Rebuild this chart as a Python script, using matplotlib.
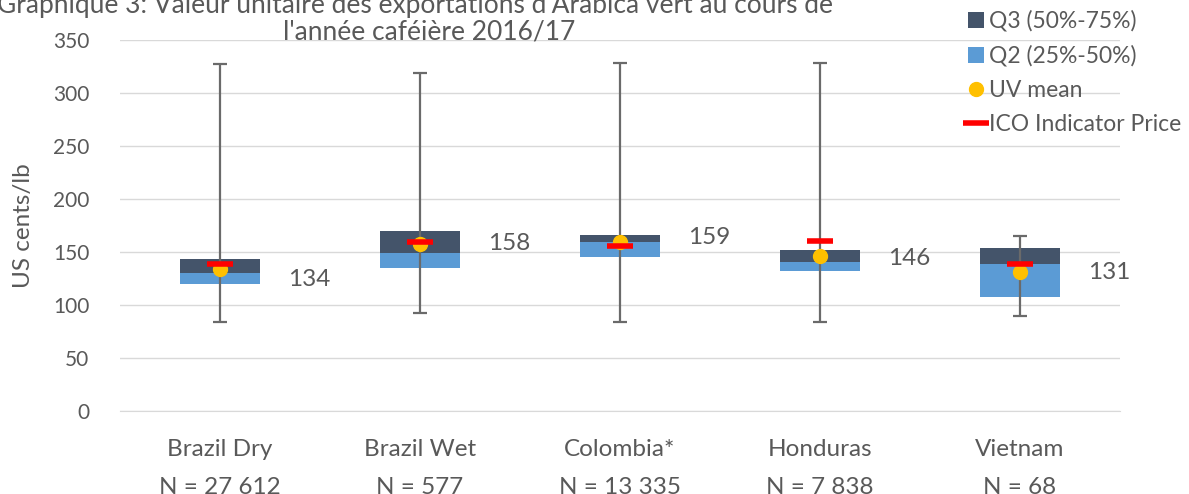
# Graphique 3 - valeur unitaire des exportations d'Arabica vert 2016/17

import matplotlib.pyplot as plt
import numpy as np

pays = ['Brazil Dry', 'Brazil Wet', 'Colombia*', 'Honduras', 'Vietnam']
effectifs = ['N = 27 612', 'N = 577', 'N = 13 335', 'N = 7 838', 'N = 68']

minimum = [84, 92, 84, 84, 90]
q1 = [119.5, 135, 145.5, 132, 108]
mediane = [130, 149, 159, 141, 139]
q3 = [143, 170, 166.5, 152, 153.5]
maximum = [327, 319, 328, 328, 165]

uv_moyen = [134, 158, 159, 146, 131]
prix_ico = [139, 159, 156, 160, 139]

# hauteur des étiquettes de valeur
y_etiq = [124, 158, 164, 144, 131]

gris_txt = '#595959'
plt.rcParams['font.family'] = ['Lato', 'DejaVu Sans']

fig = plt.figure(figsize=(11.89, 4.94), dpi=100)
ax = fig.add_axes([120/1189, 1-411/494, 1000/1189, 371/494])

x = np.arange(len(pays))
larg = 0.4

b2 = ax.bar(x, np.array(mediane)-np.array(q1), larg, bottom=q1, color='#5B9BD5', zorder=2)
b3 = ax.bar(x, np.array(q3)-np.array(mediane), larg, bottom=mediane, color='#44546A', zorder=2)

# moustaches
ax.vlines(x, minimum, maximum, color='#6A6A6A', lw=1.6, zorder=3)
ax.hlines(minimum, x-0.033, x+0.033, color='#6A6A6A', lw=1.6, zorder=3)
ax.hlines(maximum, x-0.033, x+0.033, color='#6A6A6A', lw=1.6, zorder=3)

moy, = ax.plot(x, uv_moyen, 'o', color='#FFC000', ms=10, ls='none', zorder=4, clip_on=False)
ico, = ax.plot(x, prix_ico, '_', color='#FF0000', ms=19, mew=4, ls='none', zorder=5, clip_on=False)

for i in range(len(pays)):
    ax.text(x[i]+0.34, y_etiq[i], str(uv_moyen[i]), fontsize=17.5, color=gris_txt,
            ha='left', va='center')

ax.set_xlim(-0.5, 4.5)
ax.set_ylim(0, 350)
ax.set_yticks(range(0, 351, 50))
ax.set_xticks(x)
ax.set_xticklabels([p + '\n\n' + n for p, n in zip(pays, effectifs)],
                   fontsize=17.5, color=gris_txt, linespacing=0.88)
ax.tick_params(axis='y', labelsize=15, labelcolor=gris_txt, length=0, pad=22)
ax.tick_params(axis='x', length=0, pad=20)
ax.grid(axis='y', color='#D9D9D9', lw=1, zorder=0)
ax.set_axisbelow(True)
for s in ['top', 'right', 'left']:
    ax.spines[s].set_visible(False)
ax.spines['bottom'].set_color('#D9D9D9')
ax.set_ylabel('US cents/lb', fontsize=17.5, color=gris_txt, labelpad=14)

fig.legend([b3, b2, moy, ico], ['Q3 (50%-75%)', 'Q2 (25%-50%)', 'UV mean', 'ICO Indicator Price'],
           loc='upper right', bbox_to_anchor=(1.007, 1.012), frameon=False, fontsize=16.5,
           labelcolor=gris_txt, handlelength=0.7, handletextpad=0.2,
           labelspacing=0.58, borderpad=0.2)

fig.text(415/1189, 1-6/494,
         "Graphique 3: Valeur unitaire des exportations d'Arabica vert au cours de",
         ha='center', va='center', fontsize=19, color=gris_txt)
fig.text(429/1189, 1-32/494, "l'année caféière 2016/17",
         ha='center', va='center', fontsize=19, color=gris_txt)

fig.savefig('out.png', dpi=100)
